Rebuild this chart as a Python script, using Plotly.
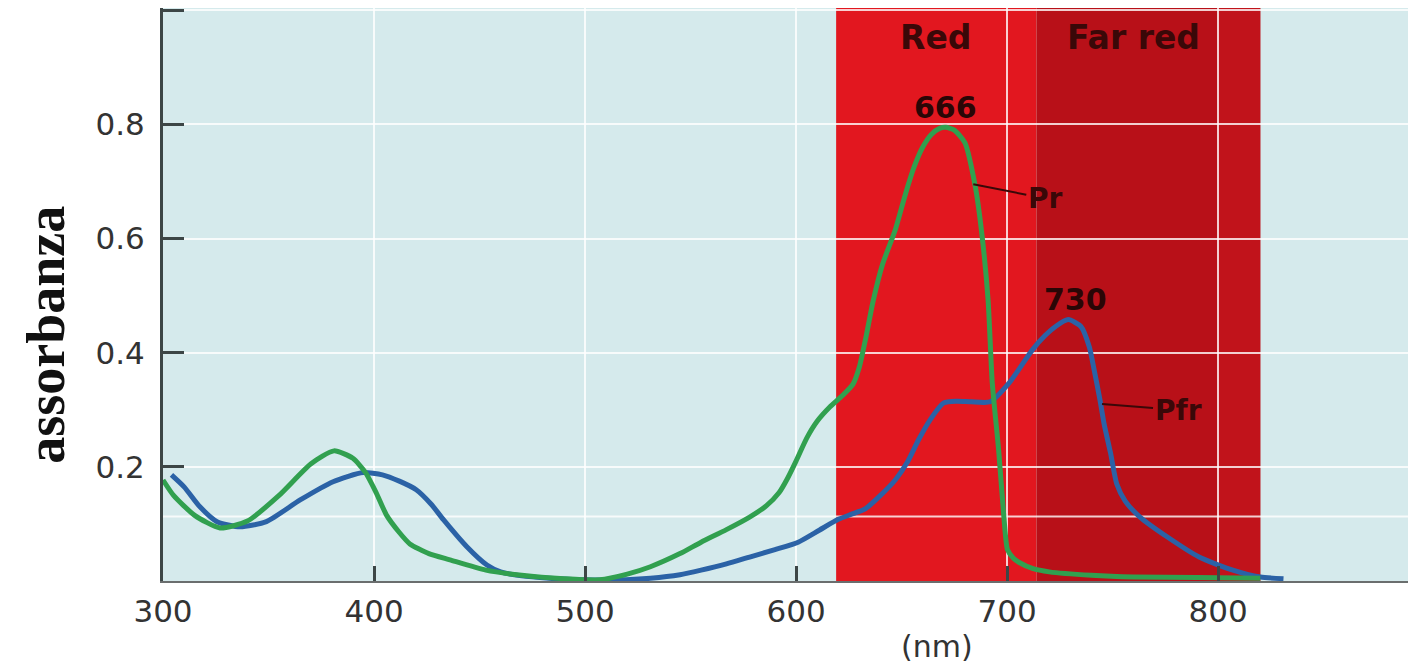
import plotly.graph_objects as go

# Pr (green) absorbance spectrum
pr_nm = [300, 305, 315, 327, 340, 355, 370, 381, 390, 396, 401, 406, 412, 417, 426, 436, 453, 470,
         490, 507, 520, 531, 545, 555, 567, 578, 586, 592, 596, 600, 605, 610, 616, 622, 627, 630,
         633, 636.5, 641, 647, 652, 656, 660, 664, 668, 671, 675, 680, 685, 688, 691, 693, 696, 698.5,
         700.2, 703, 706, 712, 720, 740, 760, 790, 820]
pr_abs = [0.177, 0.150, 0.115, 0.093, 0.105, 0.150, 0.205, 0.228, 0.215, 0.190, 0.155, 0.115, 0.085,
          0.065, 0.048, 0.037, 0.019, 0.010, 0.004, 0.002, 0.012, 0.025, 0.048, 0.068, 0.090, 0.112,
          0.132, 0.155, 0.180, 0.210, 0.250, 0.280, 0.305, 0.325, 0.345, 0.375, 0.425, 0.490, 0.555,
          0.615, 0.680, 0.726, 0.760, 0.782, 0.793, 0.795, 0.790, 0.768, 0.690, 0.610, 0.493, 0.347,
          0.230, 0.112, 0.055, 0.040, 0.032, 0.022, 0.016, 0.010, 0.007, 0.006, 0.005]

# Pfr (blue) absorbance spectrum
pfr_nm = [304, 310, 317.5, 325.6, 336.5, 349, 365, 380.6, 394.8, 404, 412, 420, 427, 433, 444,
          453.5, 460, 470, 483, 500, 515, 531, 545, 555, 567, 578, 590, 601, 611, 620, 627, 633,
          640, 647, 653, 658, 664, 670, 676, 683, 692, 701, 712, 718, 723, 729, 735, 739, 741, 744,
          746, 749, 752, 756, 763, 776, 791, 807, 820, 831]
pfr_abs = [0.186, 0.165, 0.130, 0.104, 0.095, 0.104, 0.142, 0.174, 0.190, 0.186, 0.175, 0.160, 0.135,
           0.107, 0.060, 0.028, 0.016, 0.009, 0.005, 0.002, 0.002, 0.005, 0.011, 0.019, 0.030, 0.042,
           0.055, 0.068, 0.089, 0.108, 0.118, 0.127, 0.150, 0.177, 0.210, 0.247, 0.285, 0.312, 0.315,
           0.314, 0.314, 0.347, 0.405, 0.430, 0.446, 0.458, 0.446, 0.410, 0.375, 0.318, 0.275, 0.225,
           0.170, 0.140, 0.112, 0.077, 0.042, 0.019, 0.007, 0.004]

x_ticks = [300, 400, 500, 600, 700, 800]
x_tick_labels = ["300", "400", "500", "600", "700", "800"]
y_ticks = [0.2, 0.4, 0.6, 0.8, 1.0]
y_tick_labels = ["0.2", "0.4", "0.6", "0.8", ""]

red_band = [619, 714]
far_red_band = [714, 820]

fig = go.Figure()

fig.add_trace(go.Scatter(x=pfr_nm, y=pfr_abs, mode="lines",
                         line=dict(color="#2b62a6", width=5, shape="spline", smoothing=0.6),
                         hoverinfo="skip", showlegend=False))
fig.add_trace(go.Scatter(x=pr_nm, y=pr_abs, mode="lines",
                         line=dict(color="#31a04f", width=5, shape="spline", smoothing=0.6),
                         hoverinfo="skip", showlegend=False))

# Spectral bands
fig.add_shape(type="rect", xref="x", yref="paper", x0=red_band[0], x1=red_band[1], y0=0, y1=1,
              fillcolor="#e2171f", line_width=0, layer="below")
fig.add_shape(type="rect", xref="x", yref="paper", x0=far_red_band[0], x1=far_red_band[1], y0=0, y1=1,
              fillcolor="#b81018", line_width=0, layer="below")
fig.add_shape(type="rect", xref="x", yref="paper", x0=800, x1=far_red_band[1], y0=0, y1=1,
              fillcolor="#c1131b", line_width=0, layer="below")
# extra light gridline near 0.11
fig.add_shape(type="line", xref="paper", yref="y", x0=0, x1=1, y0=0.113, y1=0.113,
              line=dict(color="rgba(255,255,255,0.8)", width=2), layer="below")

txt_dark = "#3a0808"
ann_font = dict(family="DejaVu Sans", size=33, color=txt_dark)
fig.add_annotation(x=665.9, y=0.953, text="<b>Red</b>", showarrow=False, font=ann_font)
fig.add_annotation(x=760, y=0.953, text="<b>Far red</b>", showarrow=False, font=ann_font)
fig.add_annotation(x=670.6, y=0.83, text="<b>666</b>", showarrow=False,
                   font=dict(family="DejaVu Sans", size=30, color="#2a0606"))
fig.add_annotation(x=732.2, y=0.493, text="<b>730</b>", showarrow=False,
                   font=dict(family="DejaVu Sans", size=30, color="#2a0606"))
fig.add_annotation(x=684, y=0.695, text="<b>Pr</b>", showarrow=True, arrowhead=0, arrowwidth=2,
                   arrowcolor=txt_dark, ax=72, ay=14, font=dict(family="DejaVu Sans", size=28, color=txt_dark))
fig.add_annotation(x=745, y=0.31, text="<b>Pfr</b>", showarrow=True, arrowhead=0, arrowwidth=2,
                   arrowcolor=txt_dark, ax=76, ay=6, font=dict(family="DejaVu Sans", size=28, color=txt_dark))

# axis titles
fig.add_annotation(xref="paper", yref="paper", x=0.618, y=-0.115, xanchor="center", yanchor="middle",
                   text="(nm)", showarrow=False,
                   font=dict(family="DejaVu Sans", size=30, color="#333333"))
fig.add_annotation(xref="paper", yref="paper", x=-0.094, y=0.43, xanchor="center", yanchor="middle",
                   text="<b>assorbanza</b>", textangle=-90,
                   showarrow=False, font=dict(family="Liberation Serif", size=54, color="#111111"))

grid_col = "rgba(255,255,255,0.8)"
fig.update_xaxes(range=[300, 893.8], tickvals=x_ticks, ticktext=x_tick_labels,
                 showgrid=True, gridcolor=grid_col, gridwidth=2,
                 ticks="inside", ticklen=15, tickwidth=3, tickcolor="#3c4646",
                 showline=True, linecolor="#6a6e6e", linewidth=2,
                 tickfont=dict(family="DejaVu Sans", size=31, color="#333333"),
                 ticklabelstandoff=2, zeroline=False)
fig.update_yaxes(range=[0, 1.004], tickvals=y_ticks, ticktext=y_tick_labels,
                 showgrid=True, gridcolor=grid_col, gridwidth=2,
                 ticks="inside", ticklen=21, tickwidth=3, tickcolor="#3c4646",
                 showline=True, linecolor="#3c4646", linewidth=3,
                 tickfont=dict(family="DejaVu Sans", size=31, color="#333333"),
                 ticklabelstandoff=9, zeroline=False)

fig.update_layout(width=1408, height=657, margin=dict(l=155, r=0, t=0, b=84),
                  plot_bgcolor="#d5eaec", paper_bgcolor="white", showlegend=False)

fig.write_html("out.html")
